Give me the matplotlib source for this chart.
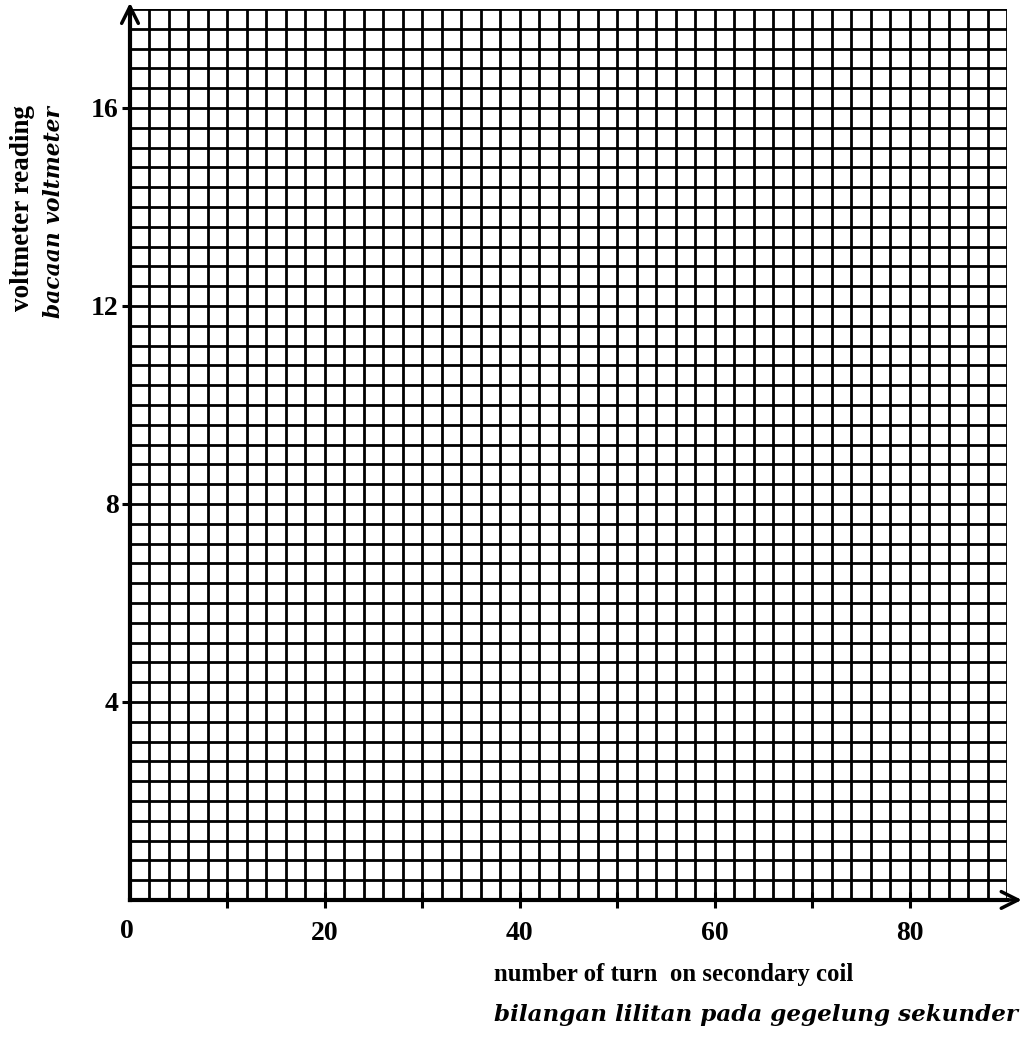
import matplotlib.pyplot as plt
from matplotlib.ticker import MultipleLocator

plt.rcParams['font.family'] = ['Liberation Serif', 'DejaVu Serif']

x_limits = [0, 90]
y_limits = [0, 18]
x_tick_pos = [10, 20, 30, 40, 50, 60, 70, 80]
x_tick_labels = ['', '20', '', '40', '', '60', '', '80']
y_tick_pos = [4, 8, 12, 16]
y_tick_labels = ['4', '8', '12', '16']
x_grid_step = 2
y_grid_step = 0.4

fig = plt.figure(figsize=(10.3, 10.38), dpi=100)
ax = fig.add_axes([0.1262, 0.133, 0.8515, 0.8584])

ax.set_xlim(x_limits)
ax.set_ylim(y_limits)

# graph paper grid
ax.xaxis.set_minor_locator(MultipleLocator(x_grid_step))
ax.yaxis.set_minor_locator(MultipleLocator(y_grid_step))
ax.grid(which='both', color='black', linewidth=2.0)
ax.set_axisbelow(True)

ax.set_xticks(x_tick_pos)
ax.set_xticklabels(x_tick_labels, fontsize=20, fontweight='bold')
ax.set_yticks(y_tick_pos)
ax.set_yticklabels(y_tick_labels, fontsize=20, fontweight='bold')
ax.tick_params(axis='x', which='major', direction='inout', length=12, width=2.2, pad=9)
ax.tick_params(axis='y', which='major', direction='out', length=6, width=2.2, pad=2)
ax.tick_params(which='minor', length=0)

for side in ['top', 'right']:
    ax.spines[side].set_visible(False)
for side in ['left', 'bottom']:
    ax.spines[side].set_linewidth(3)

# origin label
ax.annotate('0', (0, 0), xytext=(-2, -14), textcoords='offset points',
            ha='center', va='top', fontsize=20, fontweight='bold')

# axis arrows
ax.annotate('', xy=(0, 1.01), xytext=(0, 0.95), xycoords='axes fraction',
            arrowprops=dict(arrowstyle='->', lw=2.5, color='black', mutation_scale=30))
ax.annotate('', xy=(1.02, 0), xytext=(0.98, 0), xycoords='axes fraction',
            arrowprops=dict(arrowstyle='->', lw=2.5, color='black', mutation_scale=30))

# axis titles
fig.text(0.022, 0.80, 'voltmeter reading', rotation=90, ha='center', va='center',
         fontsize=19.5, fontweight='bold')
fig.text(0.052, 0.796, 'bacaan voltmeter', rotation=90, ha='center', va='center',
         fontsize=15.7, fontweight='bold', style='italic', family='DejaVu Serif')
fig.text(0.48, 0.061, 'number of turn  on secondary coil', ha='left', va='center',
         fontsize=17.8, fontweight='bold')
fig.text(0.48, 0.022, 'bilangan lilitan pada gegelung sekunder', ha='left', va='center',
         fontsize=16.6, fontweight='bold', style='italic', family='DejaVu Serif')

fig.savefig('out.png', dpi=100)
